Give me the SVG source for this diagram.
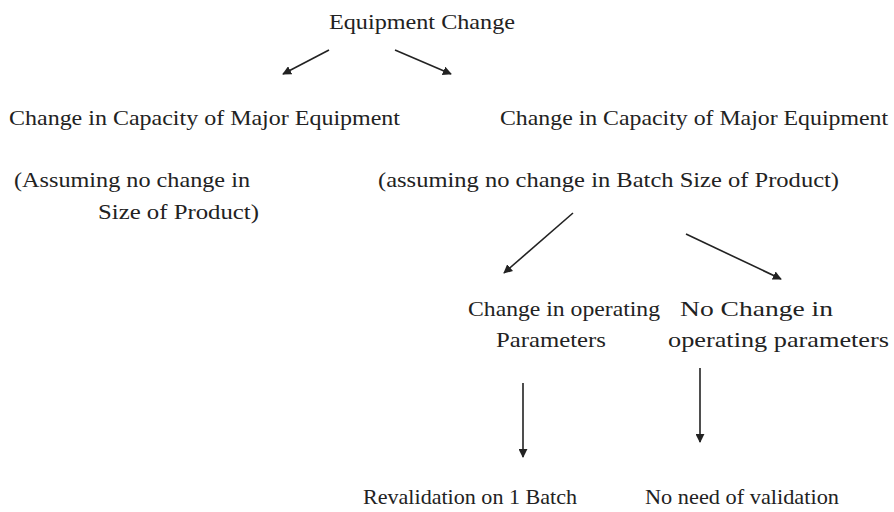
<svg xmlns="http://www.w3.org/2000/svg" width="894" height="512" viewBox="0 0 894 512">
<style>
text{font-family:"Liberation Serif","Times New Roman",serif;font-size:21px;fill:#222}
.c line{stroke:#222;stroke-width:1.6}
</style>
<defs>
<marker id="ah" viewBox="0 0 10 10" refX="9" refY="5" markerWidth="9" markerHeight="9" markerUnits="userSpaceOnUse" orient="auto">
<path d="M0,0 L10,5 L0,10 z" fill="#222"/>
</marker>
</defs>
<rect width="894" height="512" fill="#fff"/>
<g id="n-root"><text x="329" y="29" textLength="186" lengthAdjust="spacingAndGlyphs">Equipment Change</text></g>
<g id="n-left"><text x="9" y="125" textLength="391" lengthAdjust="spacingAndGlyphs">Change in Capacity  of Major Equipment</text>
<text x="14" y="187" textLength="236" lengthAdjust="spacingAndGlyphs">(Assuming no change in</text>
<text x="98" y="219" textLength="161" lengthAdjust="spacingAndGlyphs">Size of Product)</text></g>
<g id="n-right"><text x="500" y="125" textLength="388" lengthAdjust="spacingAndGlyphs">Change in Capacity of Major Equipment</text>
<text x="378" y="187" textLength="461" lengthAdjust="spacingAndGlyphs">(assuming no change in Batch Size of Product)</text></g>
<g id="n-change"><text x="468" y="316" textLength="192" lengthAdjust="spacingAndGlyphs">Change in operating</text>
<text x="496" y="347" textLength="110" lengthAdjust="spacingAndGlyphs">Parameters</text></g>
<g id="n-nochange"><text x="680" y="316" textLength="153" lengthAdjust="spacingAndGlyphs">No Change in</text>
<text x="668" y="347" textLength="221" lengthAdjust="spacingAndGlyphs">operating  parameters</text></g>
<g id="n-reval"><text x="363" y="504" textLength="214" lengthAdjust="spacingAndGlyphs">Revalidation  on 1 Batch</text></g>
<g id="n-noneed"><text x="645" y="504" textLength="194" lengthAdjust="spacingAndGlyphs">No need of validation</text></g>
<g id="connectors" class="c">
<line x1="329" y1="50" x2="283" y2="74" marker-end="url(#ah)"/>
<line x1="395" y1="50" x2="451" y2="74" marker-end="url(#ah)"/>
<line x1="573" y1="213" x2="504" y2="273" marker-end="url(#ah)"/>
<line x1="686" y1="234" x2="781" y2="279" marker-end="url(#ah)"/>
<line x1="523" y1="383" x2="523" y2="457" marker-end="url(#ah)"/>
<line x1="700" y1="368" x2="700" y2="442" marker-end="url(#ah)"/>
</g>
</svg>
